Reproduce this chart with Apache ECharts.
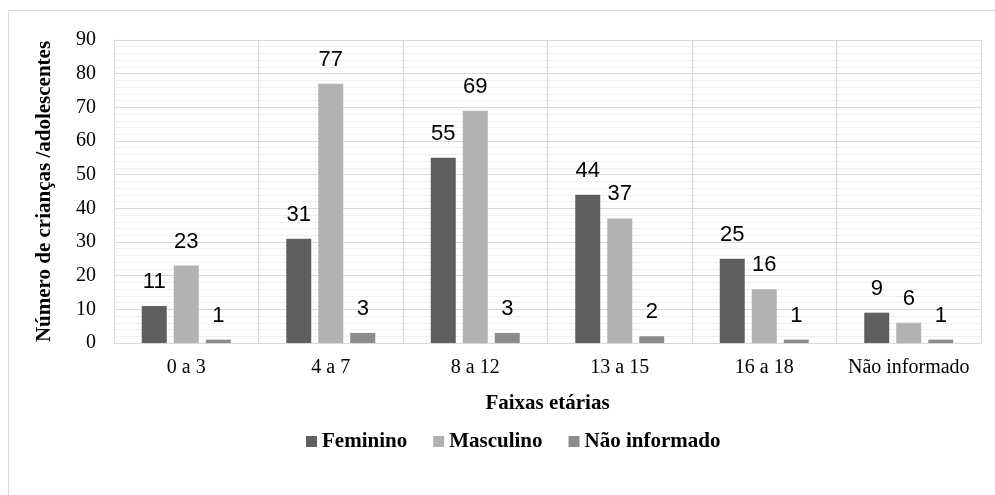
<!DOCTYPE html>
<html><head><meta charset="utf-8">
<script src="https://cdn.jsdelivr.net/npm/echarts@6/dist/echarts.min.js"></script>
<style>html,body{margin:0;padding:0;background:#fff}#c{width:995px;height:495px}</style>
</head><body><div id="c"></div>
<script>
const categories = ['0 a 3', '4 a 7', '8 a 12', '13 a 15', '16 a 18', 'Não informado'];
const feminino = [11, 31, 55, 44, 25, 9];
const masculino = [23, 77, 69, 37, 16, 6];
const naoInformado = [1, 3, 3, 2, 1, 1];
const seriesNames = ['Feminino', 'Masculino', 'Não informado'];
const yMin = 0, yMax = 90, yInterval = 10;

const serif = '"Liberation Serif", "Times New Roman", serif';
const sans = '"Liberation Sans", Arial, sans-serif';
const colors = ['#5f5f5f', '#b2b2b2', '#8c8c8c'];
const label = {show: true, position: 'top', distance: 13, color: '#000', fontFamily: sans, fontSize: 22};
function mk(name, data, i) {
  return {name, type: 'bar', data, barWidth: 25, barGap: '28%', itemStyle: {color: colors[i]}, label};
}
const chart = echarts.init(document.getElementById('c'));
chart.setOption({
  animation: false,
  graphic: [{type: 'rect', shape: {x: 8.5, y: 10.5, width: 1100, height: 600}, style: {fill: 'none', stroke: '#d9d9d9', lineWidth: 1}}],
  grid: {left: 114, right: 14, top: 40, bottom: 152, containLabel: false},
  legend: {
    data: seriesNames, left: 301, top: 426, itemWidth: 11, itemHeight: 11, itemGap: 26,
    icon: 'rect', textStyle: {fontFamily: serif, fontWeight: 'bold', fontSize: 21, color: '#000'}
  },
  xAxis: {
    type: 'category', data: categories,
    name: 'Faixas etárias', nameLocation: 'middle', nameGap: 50,
    nameTextStyle: {fontFamily: serif, fontWeight: 'bold', fontSize: 21, color: '#000'},
    axisLine: {lineStyle: {color: '#d9d9d9'}}, axisTick: {show: false},
    axisLabel: {fontFamily: serif, fontSize: 20, color: '#000', margin: 15, interval: 0},
    splitLine: {show: true, interval: 0, lineStyle: {color: '#d9d9d9'}}
  },
  yAxis: {
    type: 'value', min: yMin, max: yMax, interval: yInterval,
    name: 'Número de crianças /adolescentes', nameLocation: 'middle', nameGap: 59,
    nameTextStyle: {fontFamily: serif, fontWeight: 'bold', fontSize: 21, color: '#000'},
    axisLine: {show: true, lineStyle: {color: '#d9d9d9'}}, axisTick: {show: false},
    axisLabel: {fontFamily: serif, fontSize: 20, color: '#000', margin: 18},
    splitLine: {lineStyle: {color: '#d9d9d9'}},
    minorTick: {show: false, splitNumber: 5},
    minorSplitLine: {show: true, lineStyle: {color: '#efefef'}}
  },
  series: [mk(seriesNames[0], feminino, 0), mk(seriesNames[1], masculino, 1), mk(seriesNames[2], naoInformado, 2)]
});
</script></body></html>
